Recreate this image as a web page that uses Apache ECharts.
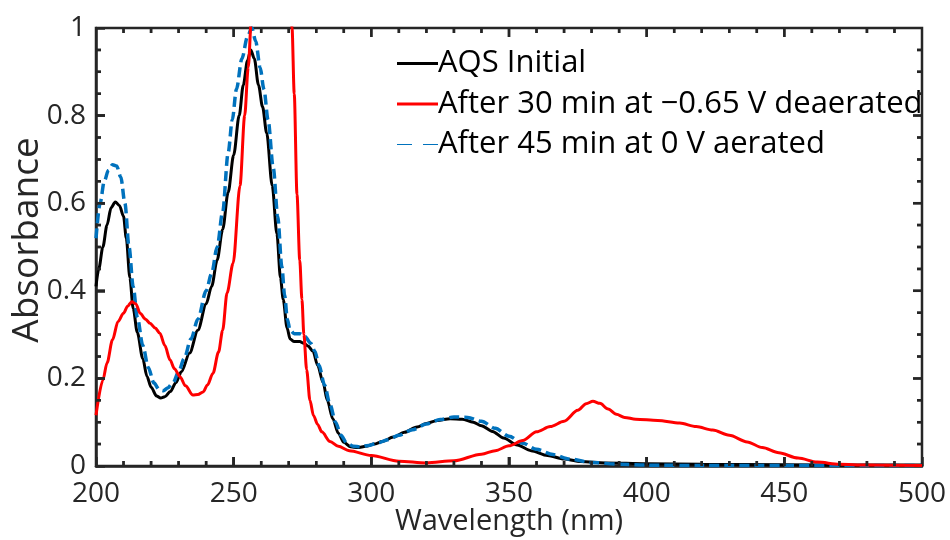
<!DOCTYPE html>
<html>
<head>
<meta charset="utf-8">
<script src="https://cdn.jsdelivr.net/npm/echarts@6/dist/echarts.min.js"></script>
<style>html,body{margin:0;padding:0;background:#fff}#c{width:950px;height:540px}</style>
</head>
<body>
<div id="c"></div>
<script>
const seriesNames = ['AQS Initial', 'After 30 min at \u22120.65 V deaerated', 'After 45 min at 0 V aerated'];
const xMajorTicks = [250, 300, 350, 400, 450];
const xMinorTicks = [210,220,230,240,260,270,280,290,310,320,330,340,360,370,380,390,410,420,430,440,460,470,480,490];
const yMajorTicks = [0.2, 0.4, 0.6, 0.8];
const yMinorTicks = [0.05,0.1,0.15,0.25,0.3,0.35,0.45,0.5,0.55,0.65,0.7,0.75,0.85,0.9,0.95];

const aqsX = [200,201,202.5,204,205.5,207,208.5,210,211,212.3,213.5,215,217,218.5,220,222,223.5,225,227,229,231,234,237,240,242,244,246,248,250,252,253.5,255,256.2,257.5,259,260.5,262,264,265.7,267,268,269.4,270.5,272,274,275.5,277,278.8,280.5,282.5,284,286,288,290,292.5,295,298,301,304,308,312,316.6,320,324,328.6,333,337,340,344,348,353,358,364,370,376,385,400,420,450,480,500];
const aqsY = [0.41,0.45,0.50,0.55,0.59,0.603,0.595,0.57,0.52,0.43,0.36,0.305,0.245,0.205,0.18,0.16,0.155,0.158,0.17,0.19,0.215,0.258,0.31,0.37,0.41,0.47,0.54,0.625,0.71,0.80,0.87,0.925,0.95,0.93,0.87,0.82,0.76,0.64,0.53,0.43,0.38,0.315,0.29,0.284,0.284,0.28,0.274,0.262,0.23,0.19,0.15,0.108,0.075,0.054,0.044,0.042,0.045,0.05,0.056,0.066,0.077,0.089,0.097,0.104,0.108,0.107,0.1,0.092,0.079,0.064,0.048,0.035,0.024,0.016,0.01,0.007,0.005,0.004,0.003,0.002,0.002];

const redX = [200,202.5,204,206,208,210,211.5,213,214.5,216,218,219.6,221.5,223.2,225,226.9,228.5,230.5,232.5,235.2,237,238.9,240.5,242.5,244.5,246,247.6,249.8,252.3,254,255.3,256.5,258,262,266,269,270.5,271.2,272,273,274,274.8,275.5,276.5,277.7,279,280.5,282,285,288,292,300,310,320,330,340,345,350,355,360,365,370,375,378,380.5,383,386,389,392,396,404,412,418,424,430,436.5,442,448,455,462,470,480,500];
const redY = [0.116,0.196,0.235,0.288,0.33,0.349,0.365,0.375,0.37,0.349,0.335,0.326,0.315,0.303,0.275,0.242,0.222,0.204,0.183,0.162,0.163,0.169,0.185,0.212,0.26,0.31,0.395,0.463,0.64,0.8,0.91,1.03,1.2,1.5,1.5,1.3,1.12,1.0,0.85,0.62,0.47,0.38,0.3,0.22,0.15,0.115,0.095,0.078,0.056,0.045,0.035,0.024,0.011,0.007,0.012,0.027,0.035,0.046,0.058,0.078,0.09,0.102,0.127,0.142,0.148,0.143,0.13,0.118,0.111,0.107,0.104,0.098,0.09,0.082,0.07,0.055,0.042,0.03,0.018,0.009,0.004,0.002,0.001];

const aerX = [200,201.5,203,204.5,206,207.5,209,210.5,212,213.5,215,217,219,221,223,224.5,226,228,230,232,234.5,237,240,242,244,246,248,249.5,251,253,255,256.6,258,259.6,261,262.5,264.4,266,267.5,268.5,269.5,270.5,272,274,276,278,279.5,281,283,285,287,289,291,293.5,296,299,302,306,310,315,320,325,330,335,340,345,350,355,360,366,372,380,390,400,420,450,480,500];
const aerY = [0.52,0.6,0.65,0.675,0.688,0.685,0.66,0.6,0.5,0.41,0.34,0.275,0.225,0.19,0.174,0.172,0.178,0.19,0.215,0.245,0.29,0.335,0.4,0.44,0.5,0.58,0.715,0.79,0.86,0.93,0.98,1.0,0.97,0.91,0.86,0.79,0.68,0.57,0.455,0.39,0.335,0.31,0.302,0.302,0.295,0.28,0.262,0.23,0.185,0.14,0.1,0.07,0.053,0.045,0.044,0.047,0.052,0.06,0.07,0.083,0.096,0.106,0.112,0.111,0.102,0.086,0.068,0.052,0.038,0.026,0.016,0.008,0.004,0.002,0.001,0.001,0.001,0.001];

function pairs(xs, ys){ return xs.map((x,i)=>[x, ys[i]]); }

const FONT = '"Open Sans"';
const TXT = '#262626';
const X_MIN = 200, X_MAX = 500, Y_MIN = 0, Y_MAX = 1;
const GRID = {left:96, right:28, top:28, bottom:74};
const W = 950, H = 540;
const plotW = W - GRID.left - GRID.right, plotH = H - GRID.top - GRID.bottom;
const pxX = (X_MAX - X_MIN) / plotW, pxY = (Y_MAX - Y_MIN) / plotH;
const MAJOR_LEN = 9, MINOR_LEN = 5, TICK_W = 2.5;

const tickSeries = [];
// line-segment ticks, inward on all four sides
function tickLine(data){
  return {type:'line', data:data, symbol:'none', silent:true, z:7, lineStyle:{color:TXT, width:TICK_W}};
}
function addX(v, len){
  tickSeries.push(tickLine([[v, Y_MIN], [v, Y_MIN + len * pxY]]));
  tickSeries.push(tickLine([[v, Y_MAX], [v, Y_MAX - len * pxY]]));
}
function addY(v, len){
  tickSeries.push(tickLine([[X_MIN, v], [X_MIN + len * pxX, v]]));
  tickSeries.push(tickLine([[X_MAX, v], [X_MAX - len * pxX, v]]));
}
xMajorTicks.forEach(v => addX(v, MAJOR_LEN));
xMinorTicks.forEach(v => addX(v, MINOR_LEN));
yMajorTicks.forEach(v => addY(v, MAJOR_LEN));
yMinorTicks.forEach(v => addY(v, MINOR_LEN));

// the same ticks as rectangle symbols placed at the tick values
function tickMarks(data, size, offset){
  return {type:'scatter', data:data, symbol:'rect', symbolSize:size, symbolOffset:offset,
          silent:true, clip:false, z:8, itemStyle:{color:TXT}};
}
function xTickMarks(vals, len){
  tickSeries.push(tickMarks(vals.map(v => [v, Y_MIN]), [TICK_W, len], [0, -len / 2]));
  tickSeries.push(tickMarks(vals.map(v => [v, Y_MAX]), [TICK_W, len], [0, len / 2]));
}
function yTickMarks(vals, len){
  tickSeries.push(tickMarks(vals.map(v => [X_MIN, v]), [len, TICK_W], [len / 2, 0]));
  tickSeries.push(tickMarks(vals.map(v => [X_MAX, v]), [len, TICK_W], [-len / 2, 0]));
}
xTickMarks(xMajorTicks, MAJOR_LEN);
xTickMarks(xMinorTicks, MINOR_LEN);
yTickMarks(yMajorTicks, MAJOR_LEN);
yTickMarks(yMinorTicks, MINOR_LEN);

const chart = echarts.init(document.getElementById('c'), null, {renderer:'canvas'});

chart.setOption({
  animation:false,
  backgroundColor:'#ffffff',
  grid:{left:GRID.left, right:GRID.right, top:GRID.top, bottom:GRID.bottom, containLabel:false,
        outerBoundsMode:'none', show:true, borderWidth:2.5, borderColor:TXT, backgroundColor:'transparent'},
  xAxis:{type:'value', min:X_MIN, max:X_MAX, interval:50,
     axisLine:{show:true, onZero:false, lineStyle:{color:TXT, width:2.5}},
     axisTick:{show:true, inside:true, length:MAJOR_LEN, lineStyle:{color:TXT, width:2.5}},
     splitLine:{show:false},
     axisLabel:{show:true, color:TXT, fontFamily:FONT, fontSize:28, margin:14},
     name:'Wavelength (nm)', nameLocation:'middle', nameGap:41, nameMoveOverlap:false,
     nameTextStyle:{color:TXT, fontFamily:FONT, fontSize:29}},
  yAxis:{type:'value', min:Y_MIN, max:Y_MAX, interval:0.2,
     axisLine:{show:true, onZero:false, lineStyle:{color:TXT, width:2.5}},
     axisTick:{show:true, inside:true, length:MAJOR_LEN, lineStyle:{color:TXT, width:2.5}},
     splitLine:{show:false},
     axisLabel:{show:true, color:TXT, fontFamily:FONT, fontSize:28, margin:10},
     name:'Absorbance', nameLocation:'middle', nameGap:50, nameMoveOverlap:false,
     nameTextStyle:{color:TXT, fontFamily:FONT, fontSize:37, padding:[0,0,0,14]}},
  legend:{
    orient:'vertical', left:392, top:43, itemWidth:41, itemHeight:3, itemGap:9.5,
    data:[
      {name:seriesNames[0], icon:'rect'},
      {name:seriesNames[1], icon:'rect'},
      {name:seriesNames[2], icon:'path://M0,0h15v1h-15z M26,0h15v1h-15z'}
    ],
    textStyle:{color:'#000', fontFamily:FONT, fontSize:31, lineHeight:31, padding:[0,0,0,-5]}
  },
  series:[
    {name:seriesNames[0], type:'line', data:pairs(aqsX, aqsY), symbol:'none', smooth:0.3, smoothMonotone:'x', clip:true, z:2,
     lineStyle:{color:'#000000', width:3}, itemStyle:{color:'#000000'}},
    {name:seriesNames[2], type:'line', data:pairs(aerX, aerY), symbol:'none', smooth:0.3, smoothMonotone:'x', clip:true, z:3,
     lineStyle:{color:'#0072BD', width:3.5, type:[10,5]}, itemStyle:{color:'#0072BD'}},
    {name:seriesNames[1], type:'line', data:pairs(redX, redY), symbol:'none', smooth:0.3, smoothMonotone:'x', clip:true, z:4,
     lineStyle:{color:'#FF0000', width:3}, itemStyle:{color:'#FF0000'}}
  ].concat(tickSeries)
});
</script>
</body>
</html>
